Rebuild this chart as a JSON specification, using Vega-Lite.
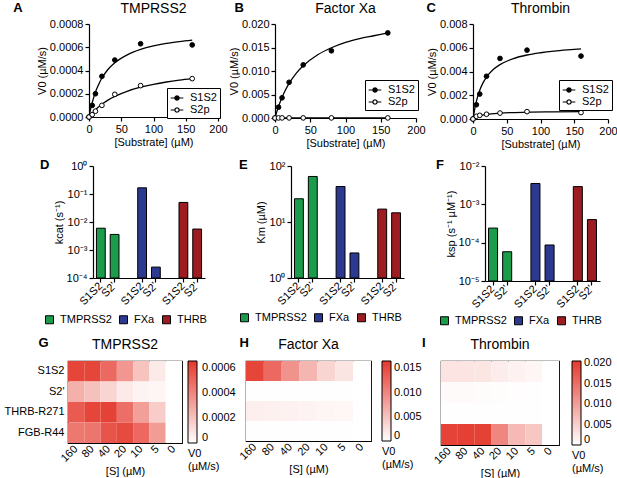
{
  "$schema": "https://vega.github.io/schema/vega-lite/v6.json",
  "padding": {"left": 1, "top": 2, "right": 0, "bottom": 0},
  "spacing": 10,
  "config": {
    "font": "Liberation Sans",
    "view": {"stroke": null},
    "axis": {"grid": false, "domainColor": "#000", "tickColor": "#000", "labelColor": "#000", "titleColor": "#000", "labelFontSize": 11, "titleFontSize": 11, "titleFontWeight": "normal", "tickSize": 4, "domainWidth": 1.2, "tickWidth": 1.2, "labelPadding": 2, "titlePadding": 2, "labelOverlap": false, "labelFlush": false},
    "title": {"fontSize": 14, "fontWeight": "normal", "color": "#000", "anchor": "middle", "frame": "group"},
    "legend": {"labelFontSize": 11, "labelColor": "#000", "titleFontSize": 11, "titleColor": "#000", "titleFontWeight": "normal"}
  },
  "datasets": {
    "kin": [
      {"enz": "TMPRSS2", "series": "S1S2", "S": 0, "v": 0},
      {"enz": "TMPRSS2", "series": "S1S2", "S": 5, "v": 0.0001},
      {"enz": "TMPRSS2", "series": "S1S2", "S": 10, "v": 0.0002},
      {"enz": "TMPRSS2", "series": "S1S2", "S": 20, "v": 0.00035},
      {"enz": "TMPRSS2", "series": "S1S2", "S": 40, "v": 0.00049},
      {"enz": "TMPRSS2", "series": "S1S2", "S": 80, "v": 0.00063},
      {"enz": "TMPRSS2", "series": "S1S2", "S": 160, "v": 0.00062},
      {"enz": "TMPRSS2", "series": "S2p", "S": 0, "v": 0},
      {"enz": "TMPRSS2", "series": "S2p", "S": 5, "v": 0.00002},
      {"enz": "TMPRSS2", "series": "S2p", "S": 10, "v": 0.00005},
      {"enz": "TMPRSS2", "series": "S2p", "S": 20, "v": 0.0001},
      {"enz": "TMPRSS2", "series": "S2p", "S": 40, "v": 0.000195},
      {"enz": "TMPRSS2", "series": "S2p", "S": 80, "v": 0.00027},
      {"enz": "TMPRSS2", "series": "S2p", "S": 160, "v": 0.00033},
      {"enz": "FXa", "series": "S1S2", "S": 0, "v": 0},
      {"enz": "FXa", "series": "S1S2", "S": 5, "v": 0.0023},
      {"enz": "FXa", "series": "S1S2", "S": 10, "v": 0.0043},
      {"enz": "FXa", "series": "S1S2", "S": 20, "v": 0.0076},
      {"enz": "FXa", "series": "S1S2", "S": 40, "v": 0.0113},
      {"enz": "FXa", "series": "S1S2", "S": 80, "v": 0.0143},
      {"enz": "FXa", "series": "S1S2", "S": 160, "v": 0.0181},
      {"enz": "FXa", "series": "S2p", "S": 0, "v": 0},
      {"enz": "FXa", "series": "S2p", "S": 5, "v": 0.00002},
      {"enz": "FXa", "series": "S2p", "S": 10, "v": 0.00002},
      {"enz": "FXa", "series": "S2p", "S": 20, "v": 0.00002},
      {"enz": "FXa", "series": "S2p", "S": 40, "v": 0.00002},
      {"enz": "FXa", "series": "S2p", "S": 80, "v": 0.00002},
      {"enz": "FXa", "series": "S2p", "S": 160, "v": 0.00002},
      {"enz": "THRB", "series": "S1S2", "S": 0, "v": 0},
      {"enz": "THRB", "series": "S1S2", "S": 5, "v": 0.0012},
      {"enz": "THRB", "series": "S1S2", "S": 10, "v": 0.0021},
      {"enz": "THRB", "series": "S1S2", "S": 20, "v": 0.0036},
      {"enz": "THRB", "series": "S1S2", "S": 40, "v": 0.0051},
      {"enz": "THRB", "series": "S1S2", "S": 80, "v": 0.0058},
      {"enz": "THRB", "series": "S1S2", "S": 160, "v": 0.0053},
      {"enz": "THRB", "series": "S2p", "S": 0, "v": 0},
      {"enz": "THRB", "series": "S2p", "S": 5, "v": 0.00023},
      {"enz": "THRB", "series": "S2p", "S": 10, "v": 0.00031},
      {"enz": "THRB", "series": "S2p", "S": 20, "v": 0.0004},
      {"enz": "THRB", "series": "S2p", "S": 40, "v": 0.0005},
      {"enz": "THRB", "series": "S2p", "S": 80, "v": 0.00062},
      {"enz": "THRB", "series": "S2p", "S": 160, "v": 0.00054}
    ],
    "fit": [
      {"enz": "TMPRSS2", "series": "S1S2", "S": 0, "v": 0},
      {"enz": "TMPRSS2", "series": "S1S2", "S": 2.5, "v": 0.00007},
      {"enz": "TMPRSS2", "series": "S1S2", "S": 5, "v": 0.000124},
      {"enz": "TMPRSS2", "series": "S1S2", "S": 10, "v": 0.000214},
      {"enz": "TMPRSS2", "series": "S1S2", "S": 15, "v": 0.00028},
      {"enz": "TMPRSS2", "series": "S1S2", "S": 20, "v": 0.000335},
      {"enz": "TMPRSS2", "series": "S1S2", "S": 30, "v": 0.000413},
      {"enz": "TMPRSS2", "series": "S1S2", "S": 40, "v": 0.000467},
      {"enz": "TMPRSS2", "series": "S1S2", "S": 60, "v": 0.000537},
      {"enz": "TMPRSS2", "series": "S1S2", "S": 80, "v": 0.000581},
      {"enz": "TMPRSS2", "series": "S1S2", "S": 100, "v": 0.000611},
      {"enz": "TMPRSS2", "series": "S1S2", "S": 120, "v": 0.000633},
      {"enz": "TMPRSS2", "series": "S1S2", "S": 140, "v": 0.000649},
      {"enz": "TMPRSS2", "series": "S1S2", "S": 160, "v": 0.000662},
      {"enz": "TMPRSS2", "series": "S2p", "S": 0, "v": 0},
      {"enz": "TMPRSS2", "series": "S2p", "S": 5, "v": 0.000033},
      {"enz": "TMPRSS2", "series": "S2p", "S": 10, "v": 0.000062},
      {"enz": "TMPRSS2", "series": "S2p", "S": 20, "v": 0.000109},
      {"enz": "TMPRSS2", "series": "S2p", "S": 30, "v": 0.000147},
      {"enz": "TMPRSS2", "series": "S2p", "S": 40, "v": 0.000177},
      {"enz": "TMPRSS2", "series": "S2p", "S": 60, "v": 0.000223},
      {"enz": "TMPRSS2", "series": "S2p", "S": 80, "v": 0.000256},
      {"enz": "TMPRSS2", "series": "S2p", "S": 100, "v": 0.000281},
      {"enz": "TMPRSS2", "series": "S2p", "S": 120, "v": 0.000301},
      {"enz": "TMPRSS2", "series": "S2p", "S": 140, "v": 0.000317},
      {"enz": "TMPRSS2", "series": "S2p", "S": 160, "v": 0.00033},
      {"enz": "FXa", "series": "S1S2", "S": 0, "v": 0},
      {"enz": "FXa", "series": "S1S2", "S": 2.5, "v": 0.0013},
      {"enz": "FXa", "series": "S1S2", "S": 5, "v": 0.00242},
      {"enz": "FXa", "series": "S1S2", "S": 10, "v": 0.00439},
      {"enz": "FXa", "series": "S1S2", "S": 15, "v": 0.006},
      {"enz": "FXa", "series": "S1S2", "S": 20, "v": 0.00735},
      {"enz": "FXa", "series": "S1S2", "S": 30, "v": 0.0095},
      {"enz": "FXa", "series": "S1S2", "S": 40, "v": 0.0111},
      {"enz": "FXa", "series": "S1S2", "S": 60, "v": 0.0134},
      {"enz": "FXa", "series": "S1S2", "S": 80, "v": 0.01495},
      {"enz": "FXa", "series": "S1S2", "S": 100, "v": 0.0161},
      {"enz": "FXa", "series": "S1S2", "S": 120, "v": 0.0169},
      {"enz": "FXa", "series": "S1S2", "S": 140, "v": 0.0175},
      {"enz": "FXa", "series": "S1S2", "S": 160, "v": 0.0181},
      {"enz": "FXa", "series": "S2p", "S": 0, "v": 0},
      {"enz": "FXa", "series": "S2p", "S": 160, "v": 0.00002},
      {"enz": "THRB", "series": "S1S2", "S": 0, "v": 0},
      {"enz": "THRB", "series": "S1S2", "S": 2.5, "v": 0.00084},
      {"enz": "THRB", "series": "S1S2", "S": 5, "v": 0.00148},
      {"enz": "THRB", "series": "S1S2", "S": 10, "v": 0.00242},
      {"enz": "THRB", "series": "S1S2", "S": 15, "v": 0.00306},
      {"enz": "THRB", "series": "S1S2", "S": 20, "v": 0.00353},
      {"enz": "THRB", "series": "S1S2", "S": 30, "v": 0.00417},
      {"enz": "THRB", "series": "S1S2", "S": 40, "v": 0.00458},
      {"enz": "THRB", "series": "S1S2", "S": 60, "v": 0.00509},
      {"enz": "THRB", "series": "S1S2", "S": 80, "v": 0.00539},
      {"enz": "THRB", "series": "S1S2", "S": 100, "v": 0.00558},
      {"enz": "THRB", "series": "S1S2", "S": 120, "v": 0.00572},
      {"enz": "THRB", "series": "S1S2", "S": 140, "v": 0.00582},
      {"enz": "THRB", "series": "S1S2", "S": 160, "v": 0.0059},
      {"enz": "THRB", "series": "S2p", "S": 0, "v": 0},
      {"enz": "THRB", "series": "S2p", "S": 2.5, "v": 0.0001},
      {"enz": "THRB", "series": "S2p", "S": 5, "v": 0.00017},
      {"enz": "THRB", "series": "S2p", "S": 10, "v": 0.00027},
      {"enz": "THRB", "series": "S2p", "S": 20, "v": 0.00039},
      {"enz": "THRB", "series": "S2p", "S": 40, "v": 0.000495},
      {"enz": "THRB", "series": "S2p", "S": 80, "v": 0.000573},
      {"enz": "THRB", "series": "S2p", "S": 120, "v": 0.0006},
      {"enz": "THRB", "series": "S2p", "S": 160, "v": 0.00062}
    ],
    "bars": [
      {"enz": "TMPRSS2", "sub": "S1S2", "key": "T1", "kcat": 0.006, "km": 26, "ksp": 0.00024},
      {"enz": "TMPRSS2", "sub": "S2'", "key": "T2", "kcat": 0.0036, "km": 65, "ksp": 0.000058},
      {"enz": "FXa", "sub": "S1S2", "key": "F1", "kcat": 0.166, "km": 43, "ksp": 0.0035},
      {"enz": "FXa", "sub": "S2'", "key": "F2", "kcat": 0.000245, "km": 2.8, "ksp": 0.000087},
      {"enz": "THRB", "sub": "S1S2", "key": "R1", "kcat": 0.05, "km": 17, "ksp": 0.0029},
      {"enz": "THRB", "sub": "S2'", "key": "R2", "kcat": 0.0056, "km": 14.6, "ksp": 0.0004}
    ],
    "heat": [
      {"enz": "TMPRSS2", "sub": "S1S2", "S": 160, "v": 0.00062},
      {"enz": "TMPRSS2", "sub": "S1S2", "S": 80, "v": 0.00062},
      {"enz": "TMPRSS2", "sub": "S1S2", "S": 40, "v": 0.0005},
      {"enz": "TMPRSS2", "sub": "S1S2", "S": 20, "v": 0.00035},
      {"enz": "TMPRSS2", "sub": "S1S2", "S": 10, "v": 0.0002},
      {"enz": "TMPRSS2", "sub": "S1S2", "S": 5, "v": 0.00007},
      {"enz": "TMPRSS2", "sub": "S1S2", "S": 0, "v": 0},
      {"enz": "TMPRSS2", "sub": "S2'", "S": 160, "v": 0.00026},
      {"enz": "TMPRSS2", "sub": "S2'", "S": 80, "v": 0.00021},
      {"enz": "TMPRSS2", "sub": "S2'", "S": 40, "v": 0.00014},
      {"enz": "TMPRSS2", "sub": "S2'", "S": 20, "v": 0.00007},
      {"enz": "TMPRSS2", "sub": "S2'", "S": 10, "v": 0.00004},
      {"enz": "TMPRSS2", "sub": "S2'", "S": 5, "v": 0.00003},
      {"enz": "TMPRSS2", "sub": "S2'", "S": 0, "v": 0},
      {"enz": "TMPRSS2", "sub": "THRB-R271", "S": 160, "v": 0.00055},
      {"enz": "TMPRSS2", "sub": "THRB-R271", "S": 80, "v": 0.00062},
      {"enz": "TMPRSS2", "sub": "THRB-R271", "S": 40, "v": 0.00063},
      {"enz": "TMPRSS2", "sub": "THRB-R271", "S": 20, "v": 0.00048},
      {"enz": "TMPRSS2", "sub": "THRB-R271", "S": 10, "v": 0.00032},
      {"enz": "TMPRSS2", "sub": "THRB-R271", "S": 5, "v": 0.00017},
      {"enz": "TMPRSS2", "sub": "THRB-R271", "S": 0, "v": 0},
      {"enz": "TMPRSS2", "sub": "FGB-R44", "S": 160, "v": 0.00045},
      {"enz": "TMPRSS2", "sub": "FGB-R44", "S": 80, "v": 0.00046},
      {"enz": "TMPRSS2", "sub": "FGB-R44", "S": 40, "v": 0.00057},
      {"enz": "TMPRSS2", "sub": "FGB-R44", "S": 20, "v": 0.0006},
      {"enz": "TMPRSS2", "sub": "FGB-R44", "S": 10, "v": 0.0005},
      {"enz": "TMPRSS2", "sub": "FGB-R44", "S": 5, "v": 0.00033},
      {"enz": "TMPRSS2", "sub": "FGB-R44", "S": 0, "v": 0},
      {"enz": "FXa", "sub": "S1S2", "S": 160, "v": 0.0155},
      {"enz": "FXa", "sub": "S1S2", "S": 80, "v": 0.0125},
      {"enz": "FXa", "sub": "S1S2", "S": 40, "v": 0.009},
      {"enz": "FXa", "sub": "S1S2", "S": 20, "v": 0.0062},
      {"enz": "FXa", "sub": "S1S2", "S": 10, "v": 0.0035},
      {"enz": "FXa", "sub": "S1S2", "S": 5, "v": 0.0022},
      {"enz": "FXa", "sub": "S1S2", "S": 0, "v": 0},
      {"enz": "FXa", "sub": "S2'", "S": 160, "v": 0.0001},
      {"enz": "FXa", "sub": "S2'", "S": 80, "v": 0.0001},
      {"enz": "FXa", "sub": "S2'", "S": 40, "v": 0.0001},
      {"enz": "FXa", "sub": "S2'", "S": 20, "v": 0.0001},
      {"enz": "FXa", "sub": "S2'", "S": 10, "v": 0.0001},
      {"enz": "FXa", "sub": "S2'", "S": 5, "v": 0.0001},
      {"enz": "FXa", "sub": "S2'", "S": 0, "v": 0},
      {"enz": "FXa", "sub": "THRB-R271", "S": 160, "v": 0.0013},
      {"enz": "FXa", "sub": "THRB-R271", "S": 80, "v": 0.0012},
      {"enz": "FXa", "sub": "THRB-R271", "S": 40, "v": 0.0011},
      {"enz": "FXa", "sub": "THRB-R271", "S": 20, "v": 0.001},
      {"enz": "FXa", "sub": "THRB-R271", "S": 10, "v": 0.0008},
      {"enz": "FXa", "sub": "THRB-R271", "S": 5, "v": 0.0007},
      {"enz": "FXa", "sub": "THRB-R271", "S": 0, "v": 0},
      {"enz": "FXa", "sub": "FGB-R44", "S": 160, "v": 0.0001},
      {"enz": "FXa", "sub": "FGB-R44", "S": 80, "v": 0.0001},
      {"enz": "FXa", "sub": "FGB-R44", "S": 40, "v": 0.0001},
      {"enz": "FXa", "sub": "FGB-R44", "S": 20, "v": 0.0001},
      {"enz": "FXa", "sub": "FGB-R44", "S": 10, "v": 0.0001},
      {"enz": "FXa", "sub": "FGB-R44", "S": 5, "v": 0.0001},
      {"enz": "FXa", "sub": "FGB-R44", "S": 0, "v": 0},
      {"enz": "THRB", "sub": "S1S2", "S": 160, "v": 0.0028},
      {"enz": "THRB", "sub": "S1S2", "S": 80, "v": 0.0028},
      {"enz": "THRB", "sub": "S1S2", "S": 40, "v": 0.0026},
      {"enz": "THRB", "sub": "S1S2", "S": 20, "v": 0.002},
      {"enz": "THRB", "sub": "S1S2", "S": 10, "v": 0.0014},
      {"enz": "THRB", "sub": "S1S2", "S": 5, "v": 0.001},
      {"enz": "THRB", "sub": "S1S2", "S": 0, "v": 0},
      {"enz": "THRB", "sub": "S2'", "S": 160, "v": 0.0005},
      {"enz": "THRB", "sub": "S2'", "S": 80, "v": 0.0005},
      {"enz": "THRB", "sub": "S2'", "S": 40, "v": 0.0004},
      {"enz": "THRB", "sub": "S2'", "S": 20, "v": 0.0003},
      {"enz": "THRB", "sub": "S2'", "S": 10, "v": 0.0002},
      {"enz": "THRB", "sub": "S2'", "S": 5, "v": 0.0001},
      {"enz": "THRB", "sub": "S2'", "S": 0, "v": 0},
      {"enz": "THRB", "sub": "THRB-R271", "S": 160, "v": 0.0001},
      {"enz": "THRB", "sub": "THRB-R271", "S": 80, "v": 0.0001},
      {"enz": "THRB", "sub": "THRB-R271", "S": 40, "v": 0.0001},
      {"enz": "THRB", "sub": "THRB-R271", "S": 20, "v": 0.0001},
      {"enz": "THRB", "sub": "THRB-R271", "S": 10, "v": 0.0001},
      {"enz": "THRB", "sub": "THRB-R271", "S": 5, "v": 0.0001},
      {"enz": "THRB", "sub": "THRB-R271", "S": 0, "v": 0},
      {"enz": "THRB", "sub": "FGB-R44", "S": 160, "v": 0.0195},
      {"enz": "THRB", "sub": "FGB-R44", "S": 80, "v": 0.0198},
      {"enz": "THRB", "sub": "FGB-R44", "S": 40, "v": 0.0196},
      {"enz": "THRB", "sub": "FGB-R44", "S": 20, "v": 0.0125},
      {"enz": "THRB", "sub": "FGB-R44", "S": 10, "v": 0.0072},
      {"enz": "THRB", "sub": "FGB-R44", "S": 5, "v": 0.0058},
      {"enz": "THRB", "sub": "FGB-R44", "S": 0, "v": 0}
    ],
    "blank": [{}]
  },
  "resolve": {"scale": {"x": "independent", "y": "independent", "fill": "independent", "color": "independent"}, "legend": {"fill": "independent", "color": "independent"}},
  "vconcat": [
    {
      "spacing": 0,
      "resolve": {"scale": {"x": "independent", "y": "independent", "fill": "independent"}, "legend": {"fill": "independent"}},
      "hconcat": [
        {"width": 11, "height": 1, "data": {"name": "blank"}, "mark": {"type": "rule", "opacity": 0}, "encoding": {}, "view": {"fill": "white", "stroke": null}},
        {
          "title": {"text": "A", "anchor": "start", "frame": "bounds", "fontSize": 13, "fontWeight": "bold", "offset": -13, "dx": -23},
          "vconcat": [
            {
              "title": {"text": "TMPRSS2", "offset": 2},
              "width": 129,
              "height": 93,
              "encoding": {
                "x": {"field": "S", "type": "quantitative", "scale": {"domain": [0, 200], "nice": false}, "axis": {"values": [0, 50, 100, 150, 200], "title": "[Substrate] (µM)", "labelOverlap": false}},
                "y": {"field": "v", "type": "quantitative", "scale": {"domain": [0, 0.0008], "nice": false}, "axis": {"values": [0, 0.0002, 0.0004, 0.0006, 0.0008], "format": ".4f", "title": "V0 (µM/s)", "labelOverlap": false}}
              },
              "layer": [
                {
                  "data": {"name": "fit"},
                  "transform": [{"filter": {"field": "enz", "equal": "TMPRSS2"}}],
                  "mark": {"type": "line", "color": "black", "strokeWidth": 1.3, "interpolate": "monotone"},
                  "encoding": {"detail": {"field": "series"}}
                },
                {
                  "data": {"name": "kin"},
                  "transform": [{"filter": {"field": "enz", "equal": "TMPRSS2"}}],
                  "mark": {"type": "point", "shape": "circle", "filled": true, "size": 22, "stroke": "black", "strokeWidth": 1, "opacity": 1},
                  "encoding": {
                    "fill": {"field": "series", "type": "nominal", "scale": {"domain": ["S1S2", "S2p"], "range": ["black", "white"]},
                      "legend": {"title": null, "orient": "none", "legendX": 78, "legendY": 64, "symbolType": "M-1,0L-0.35,0M0.35,0L1,0M0.35,0L0.25,0.25L0,0.35L-0.25,0.25L-0.35,0L-0.25,-0.25L0,-0.35L0.25,-0.25Z", "symbolSize": 160, "symbolStrokeColor": "black", "symbolStrokeWidth": 1.2, "padding": 3, "strokeColor": "black", "fillColor": "white", "rowPadding": 0, "labelOffset": 6}}
                  }
                }
              ]
            }
          ]
        },
        {
          "title": {"text": "B", "anchor": "start", "frame": "bounds", "fontSize": 13, "fontWeight": "bold", "offset": -13, "dx": 6},
          "vconcat": [
            {
              "title": {"text": "Factor Xa", "offset": 2},
              "width": 141,
              "height": 94,
              "encoding": {
                "x": {"field": "S", "type": "quantitative", "scale": {"domain": [0, 200], "nice": false}, "axis": {"values": [0, 50, 100, 150, 200], "title": "[Substrate] (µM)", "labelOverlap": false}},
                "y": {"field": "v", "type": "quantitative", "scale": {"domain": [0, 0.02], "nice": false}, "axis": {"values": [0, 0.005, 0.01, 0.015, 0.02], "format": ".3f", "title": "V0 (µM/s)", "labelOverlap": false}}
              },
              "layer": [
                {
                  "data": {"name": "fit"},
                  "transform": [{"filter": {"field": "enz", "equal": "FXa"}}],
                  "mark": {"type": "line", "color": "black", "strokeWidth": 1.3, "interpolate": "monotone"},
                  "encoding": {"detail": {"field": "series"}}
                },
                {
                  "data": {"name": "kin"},
                  "transform": [{"filter": {"field": "enz", "equal": "FXa"}}],
                  "mark": {"type": "point", "shape": "circle", "filled": true, "size": 22, "stroke": "black", "strokeWidth": 1, "opacity": 1},
                  "encoding": {
                    "fill": {"field": "series", "type": "nominal", "scale": {"domain": ["S1S2", "S2p"], "range": ["black", "white"]},
                      "legend": {"title": null, "orient": "none", "legendX": 90, "legendY": 56, "symbolType": "M-1,0L-0.35,0M0.35,0L1,0M0.35,0L0.25,0.25L0,0.35L-0.25,0.25L-0.35,0L-0.25,-0.25L0,-0.35L0.25,-0.25Z", "symbolSize": 160, "symbolStrokeColor": "black", "symbolStrokeWidth": 1.2, "padding": 3, "strokeColor": "black", "fillColor": "white", "rowPadding": 0, "labelOffset": 6}}
                  }
                }
              ]
            }
          ]
        },
        {
          "title": {"text": "C", "anchor": "start", "frame": "bounds", "fontSize": 13, "fontWeight": "bold", "offset": -13, "dx": 0},
          "vconcat": [
            {
              "title": {"text": "Thrombin", "offset": 2},
              "width": 135,
              "height": 95,
              "encoding": {
                "x": {"field": "S", "type": "quantitative", "scale": {"domain": [0, 200], "nice": false}, "axis": {"values": [0, 50, 100, 150, 200], "title": "[Substrate] (µM)", "labelOverlap": false}},
                "y": {"field": "v", "type": "quantitative", "scale": {"domain": [0, 0.008], "nice": false}, "axis": {"values": [0, 0.002, 0.004, 0.006, 0.008], "format": ".3f", "title": "V0 (µM/s)", "labelOverlap": false}}
              },
              "layer": [
                {
                  "data": {"name": "fit"},
                  "transform": [{"filter": {"field": "enz", "equal": "THRB"}}],
                  "mark": {"type": "line", "color": "black", "strokeWidth": 1.3, "interpolate": "monotone"},
                  "encoding": {"detail": {"field": "series"}}
                },
                {
                  "data": {"name": "kin"},
                  "transform": [{"filter": {"field": "enz", "equal": "THRB"}}],
                  "mark": {"type": "point", "shape": "circle", "filled": true, "size": 22, "stroke": "black", "strokeWidth": 1, "opacity": 1},
                  "encoding": {
                    "fill": {"field": "series", "type": "nominal", "scale": {"domain": ["S1S2", "S2p"], "range": ["black", "white"]},
                      "legend": {"title": null, "orient": "none", "legendX": 86, "legendY": 56, "symbolType": "M-1,0L-0.35,0M0.35,0L1,0M0.35,0L0.25,0.25L0,0.35L-0.25,0.25L-0.35,0L-0.25,-0.25L0,-0.35L0.25,-0.25Z", "symbolSize": 160, "symbolStrokeColor": "black", "symbolStrokeWidth": 1.2, "padding": 3, "strokeColor": "black", "fillColor": "white", "rowPadding": 0, "labelOffset": 6}}
                  }
                }
              ]
            }
          ]
        }
      ]
    },
    {
      "spacing": 32,
      "resolve": {"scale": {"x": "independent", "y": "independent", "fill": "independent"}, "legend": {"fill": "independent"}},
      "hconcat": [
        {"width": 6, "height": 1, "data": {"name": "blank"}, "mark": {"type": "rule", "opacity": 0}, "encoding": {}, "view": {"fill": "white", "stroke": null}},
        {
          "title": {"text": "D", "anchor": "start", "frame": "bounds", "fontSize": 13, "fontWeight": "bold", "offset": -12, "dx": -4},
          "width": 112,
          "height": 112,
          "data": {"name": "bars"},
          "mark": {"type": "bar", "stroke": "black", "strokeWidth": 1},
          "encoding": {
            "x": {"field": "key", "type": "nominal", "scale": {"domain": ["T1", "T2", "g1", "F1", "F2", "g2", "R1", "R2"], "paddingInner": 0.36, "paddingOuter": 0.25},
              "axis": {"values": ["T1", "T2", "F1", "F2", "R1", "R2"], "labelExpr": "indexof(datum.value, '1') > 0 ? 'S1S2' : \"S2'\"", "labelAngle": -45, "labelAlign": "right", "labelBaseline": "middle", "title": null}},
            "y": {"field": "kcat", "type": "quantitative", "scale": {"type": "log", "domain": [0.0001, 1]},
              "axis": {"values": [0.0001, 0.001, 0.01, 0.1, 1], "labelExpr": "datum.value >= 0.5 ? '10⁰' : datum.value >= 0.05 ? '10⁻¹' : datum.value >= 0.005 ? '10⁻²' : datum.value >= 0.0005 ? '10⁻³' : '10⁻⁴'", "title": "kcat (s⁻¹)"}},
            "y2": {"datum": 0.0001},
            "fill": {"field": "enz", "type": "nominal", "scale": {"domain": ["TMPRSS2", "FXa", "THRB"], "range": ["#1a9c4b", "#2b3990", "#9c1c21"]},
              "legend": {"title": null, "orient": "none", "legendX": -49, "legendY": 148, "direction": "horizontal", "symbolType": "square", "symbolSize": 64, "symbolStrokeColor": "black", "symbolStrokeWidth": 1, "labelOffset": 5, "columnPadding": 5}}
          }
        },
        {
          "title": {"text": "E", "anchor": "start", "frame": "bounds", "fontSize": 13, "fontWeight": "bold", "offset": -12, "dx": 0},
          "width": 113,
          "height": 112,
          "data": {"name": "bars"},
          "mark": {"type": "bar", "stroke": "black", "strokeWidth": 1},
          "encoding": {
            "x": {"field": "key", "type": "nominal", "scale": {"domain": ["T1", "T2", "g1", "F1", "F2", "g2", "R1", "R2"], "paddingInner": 0.36, "paddingOuter": 0.25},
              "axis": {"values": ["T1", "T2", "F1", "F2", "R1", "R2"], "labelExpr": "indexof(datum.value, '1') > 0 ? 'S1S2' : \"S2'\"", "labelAngle": -45, "labelAlign": "right", "labelBaseline": "middle", "title": null}},
            "y": {"field": "km", "type": "quantitative", "scale": {"type": "log", "domain": [1, 100]},
              "axis": {"values": [1, 10, 100], "labelExpr": "datum.value >= 50 ? '10²' : datum.value >= 5 ? '10¹' : '10⁰'", "title": "Km (µM)"}},
            "y2": {"datum": 1},
            "fill": {"field": "enz", "type": "nominal", "scale": {"domain": ["TMPRSS2", "FXa", "THRB"], "range": ["#1a9c4b", "#2b3990", "#9c1c21"]},
              "legend": {"title": null, "orient": "none", "legendX": -52, "legendY": 146, "direction": "horizontal", "symbolType": "square", "symbolSize": 64, "symbolStrokeColor": "black", "symbolStrokeWidth": 1, "labelOffset": 5, "columnPadding": 5}}
          }
        },
        {
          "title": {"text": "F", "anchor": "start", "frame": "bounds", "fontSize": 13, "fontWeight": "bold", "offset": -12, "dx": -3},
          "width": 115,
          "height": 115,
          "data": {"name": "bars"},
          "mark": {"type": "bar", "stroke": "black", "strokeWidth": 1},
          "encoding": {
            "x": {"field": "key", "type": "nominal", "scale": {"domain": ["T1", "T2", "g1", "F1", "F2", "g2", "R1", "R2"], "paddingInner": 0.36, "paddingOuter": 0.25},
              "axis": {"values": ["T1", "T2", "F1", "F2", "R1", "R2"], "labelExpr": "indexof(datum.value, '1') > 0 ? 'S1S2' : \"S2'\"", "labelAngle": -45, "labelAlign": "right", "labelBaseline": "middle", "title": null}},
            "y": {"field": "ksp", "type": "quantitative", "scale": {"type": "log", "domain": [0.00001, 0.01]},
              "axis": {"values": [0.00001, 0.0001, 0.001, 0.01], "labelExpr": "datum.value >= 0.005 ? '10⁻²' : datum.value >= 0.0005 ? '10⁻³' : datum.value >= 0.00005 ? '10⁻⁴' : '10⁻⁵'", "title": "ksp (s⁻¹ µM⁻¹)"}},
            "y2": {"datum": 0.00001},
            "fill": {"field": "enz", "type": "nominal", "scale": {"domain": ["TMPRSS2", "FXa", "THRB"], "range": ["#1a9c4b", "#2b3990", "#9c1c21"]},
              "legend": {"title": null, "orient": "none", "legendX": -46, "legendY": 149, "direction": "horizontal", "symbolType": "square", "symbolSize": 64, "symbolStrokeColor": "black", "symbolStrokeWidth": 1, "labelOffset": 5, "columnPadding": 5}}
          }
        }
      ]
    },
    {
      "spacing": 0,
      "resolve": {"scale": {"x": "independent", "y": "independent", "color": "independent"}, "legend": {"color": "independent"}},
      "hconcat": [
        {"width": 1, "height": 1, "data": {"name": "blank"}, "mark": {"type": "rule", "opacity": 0}, "encoding": {}, "view": {"fill": "white", "stroke": null}},
        {
          "title": {"text": "G", "anchor": "start", "frame": "bounds", "fontSize": 13, "fontWeight": "bold", "offset": -13, "dx": 35},
          "vconcat": [
            {
              "title": {"text": "TMPRSS2", "offset": 9},
              "width": 114,
              "height": 82,
              "view": {"stroke": "black", "strokeWidth": 1.2},
              "data": {"name": "heat"},
              "transform": [{"filter": {"field": "enz", "equal": "TMPRSS2"}}],
              "mark": "rect",
              "encoding": {
                "x": {"field": "S", "type": "ordinal", "sort": "descending", "axis": {"title": "[S] (µM)", "labelAngle": -45, "labelAlign": "right", "labelBaseline": "middle", "ticks": false, "domain": false, "labelPadding": 4}},
                "y": {"field": "sub", "type": "nominal", "sort": ["S1S2", "S2'", "THRB-R271", "FGB-R44"], "axis": {"title": null, "ticks": false, "domain": false, "labelPadding": 4}},
                "color": {"field": "v", "type": "quantitative", "scale": {"domain": [0, 0.00066], "range": ["#ffffff", "#e4392d"], "interpolate": "rgb"},
                  "legend": {"orient": "right", "offset": 5, "padding": 0, "labelOffset": 5, "gradientLength": 82, "gradientThickness": 9, "gradientStrokeColor": "black", "gradientStrokeWidth": 1, "values": [0, 0.0002, 0.0004, 0.0006], "labelExpr": "datum.value == 0 ? '0' : format(datum.value, '.4f')", "title": ["V0", "(µM/s)"], "titleOrient": "bottom", "titleAnchor": "start", "titleAlign": "left", "titlePadding": 4}}
              }
            }
          ]
        },
        {
          "title": {"text": "H", "anchor": "start", "frame": "bounds", "fontSize": 13, "fontWeight": "bold", "offset": -13, "dx": 3},
          "vconcat": [
            {
              "title": {"text": "Factor Xa", "offset": 9},
              "width": 125,
              "height": 80,
              "view": {"stroke": "black", "strokeWidth": 1.2},
              "data": {"name": "heat"},
              "transform": [{"filter": {"field": "enz", "equal": "FXa"}}],
              "mark": "rect",
              "encoding": {
                "x": {"field": "S", "type": "ordinal", "sort": "descending", "axis": {"title": "[S] (µM)", "labelAngle": -45, "labelAlign": "right", "labelBaseline": "middle", "ticks": false, "domain": false, "labelPadding": 4}},
                "y": {"field": "sub", "type": "nominal", "sort": ["S1S2", "S2'", "THRB-R271", "FGB-R44"], "axis": null},
                "color": {"field": "v", "type": "quantitative", "scale": {"domain": [0, 0.0165], "range": ["#ffffff", "#e4392d"], "interpolate": "rgb"},
                  "legend": {"orient": "right", "offset": 10, "padding": 0, "labelOffset": 3, "gradientLength": 80, "gradientThickness": 9, "gradientStrokeColor": "black", "gradientStrokeWidth": 1, "values": [0, 0.005, 0.01, 0.015], "labelExpr": "datum.value == 0 ? '0' : format(datum.value, '.3f')", "title": ["V0", "(µM/s)"], "titleOrient": "bottom", "titleAnchor": "start", "titleAlign": "left", "titlePadding": 4}}
              }
            }
          ]
        },
        {
          "title": {"text": "I", "anchor": "start", "frame": "bounds", "fontSize": 13, "fontWeight": "bold", "offset": -13, "dx": -9},
          "vconcat": [
            {
              "title": {"text": "Thrombin", "offset": 9},
              "width": 118,
              "height": 84,
              "view": {"stroke": "black", "strokeWidth": 1.2},
              "data": {"name": "heat"},
              "transform": [{"filter": {"field": "enz", "equal": "THRB"}}],
              "mark": "rect",
              "encoding": {
                "x": {"field": "S", "type": "ordinal", "sort": "descending", "axis": {"title": "[S] (µM)", "labelAngle": -45, "labelAlign": "right", "labelBaseline": "middle", "ticks": false, "domain": false, "labelPadding": 4}},
                "y": {"field": "sub", "type": "nominal", "sort": ["S1S2", "S2'", "THRB-R271", "FGB-R44"], "axis": null},
                "color": {"field": "v", "type": "quantitative", "scale": {"domain": [0, 0.0205], "range": ["#ffffff", "#e4392d"], "interpolate": "rgb"},
                  "legend": {"orient": "right", "offset": 12, "padding": 0, "labelOffset": 3, "gradientLength": 84, "gradientThickness": 9, "gradientStrokeColor": "black", "gradientStrokeWidth": 1, "values": [0, 0.005, 0.01, 0.015, 0.02], "labelExpr": "datum.value == 0 ? '0' : format(datum.value, '.3f')", "title": ["V0", "(µM/s)"], "titleOrient": "bottom", "titleAnchor": "start", "titleAlign": "left", "titlePadding": 4}}
              }
            }
          ]
        }
      ]
    }
  ]
}
